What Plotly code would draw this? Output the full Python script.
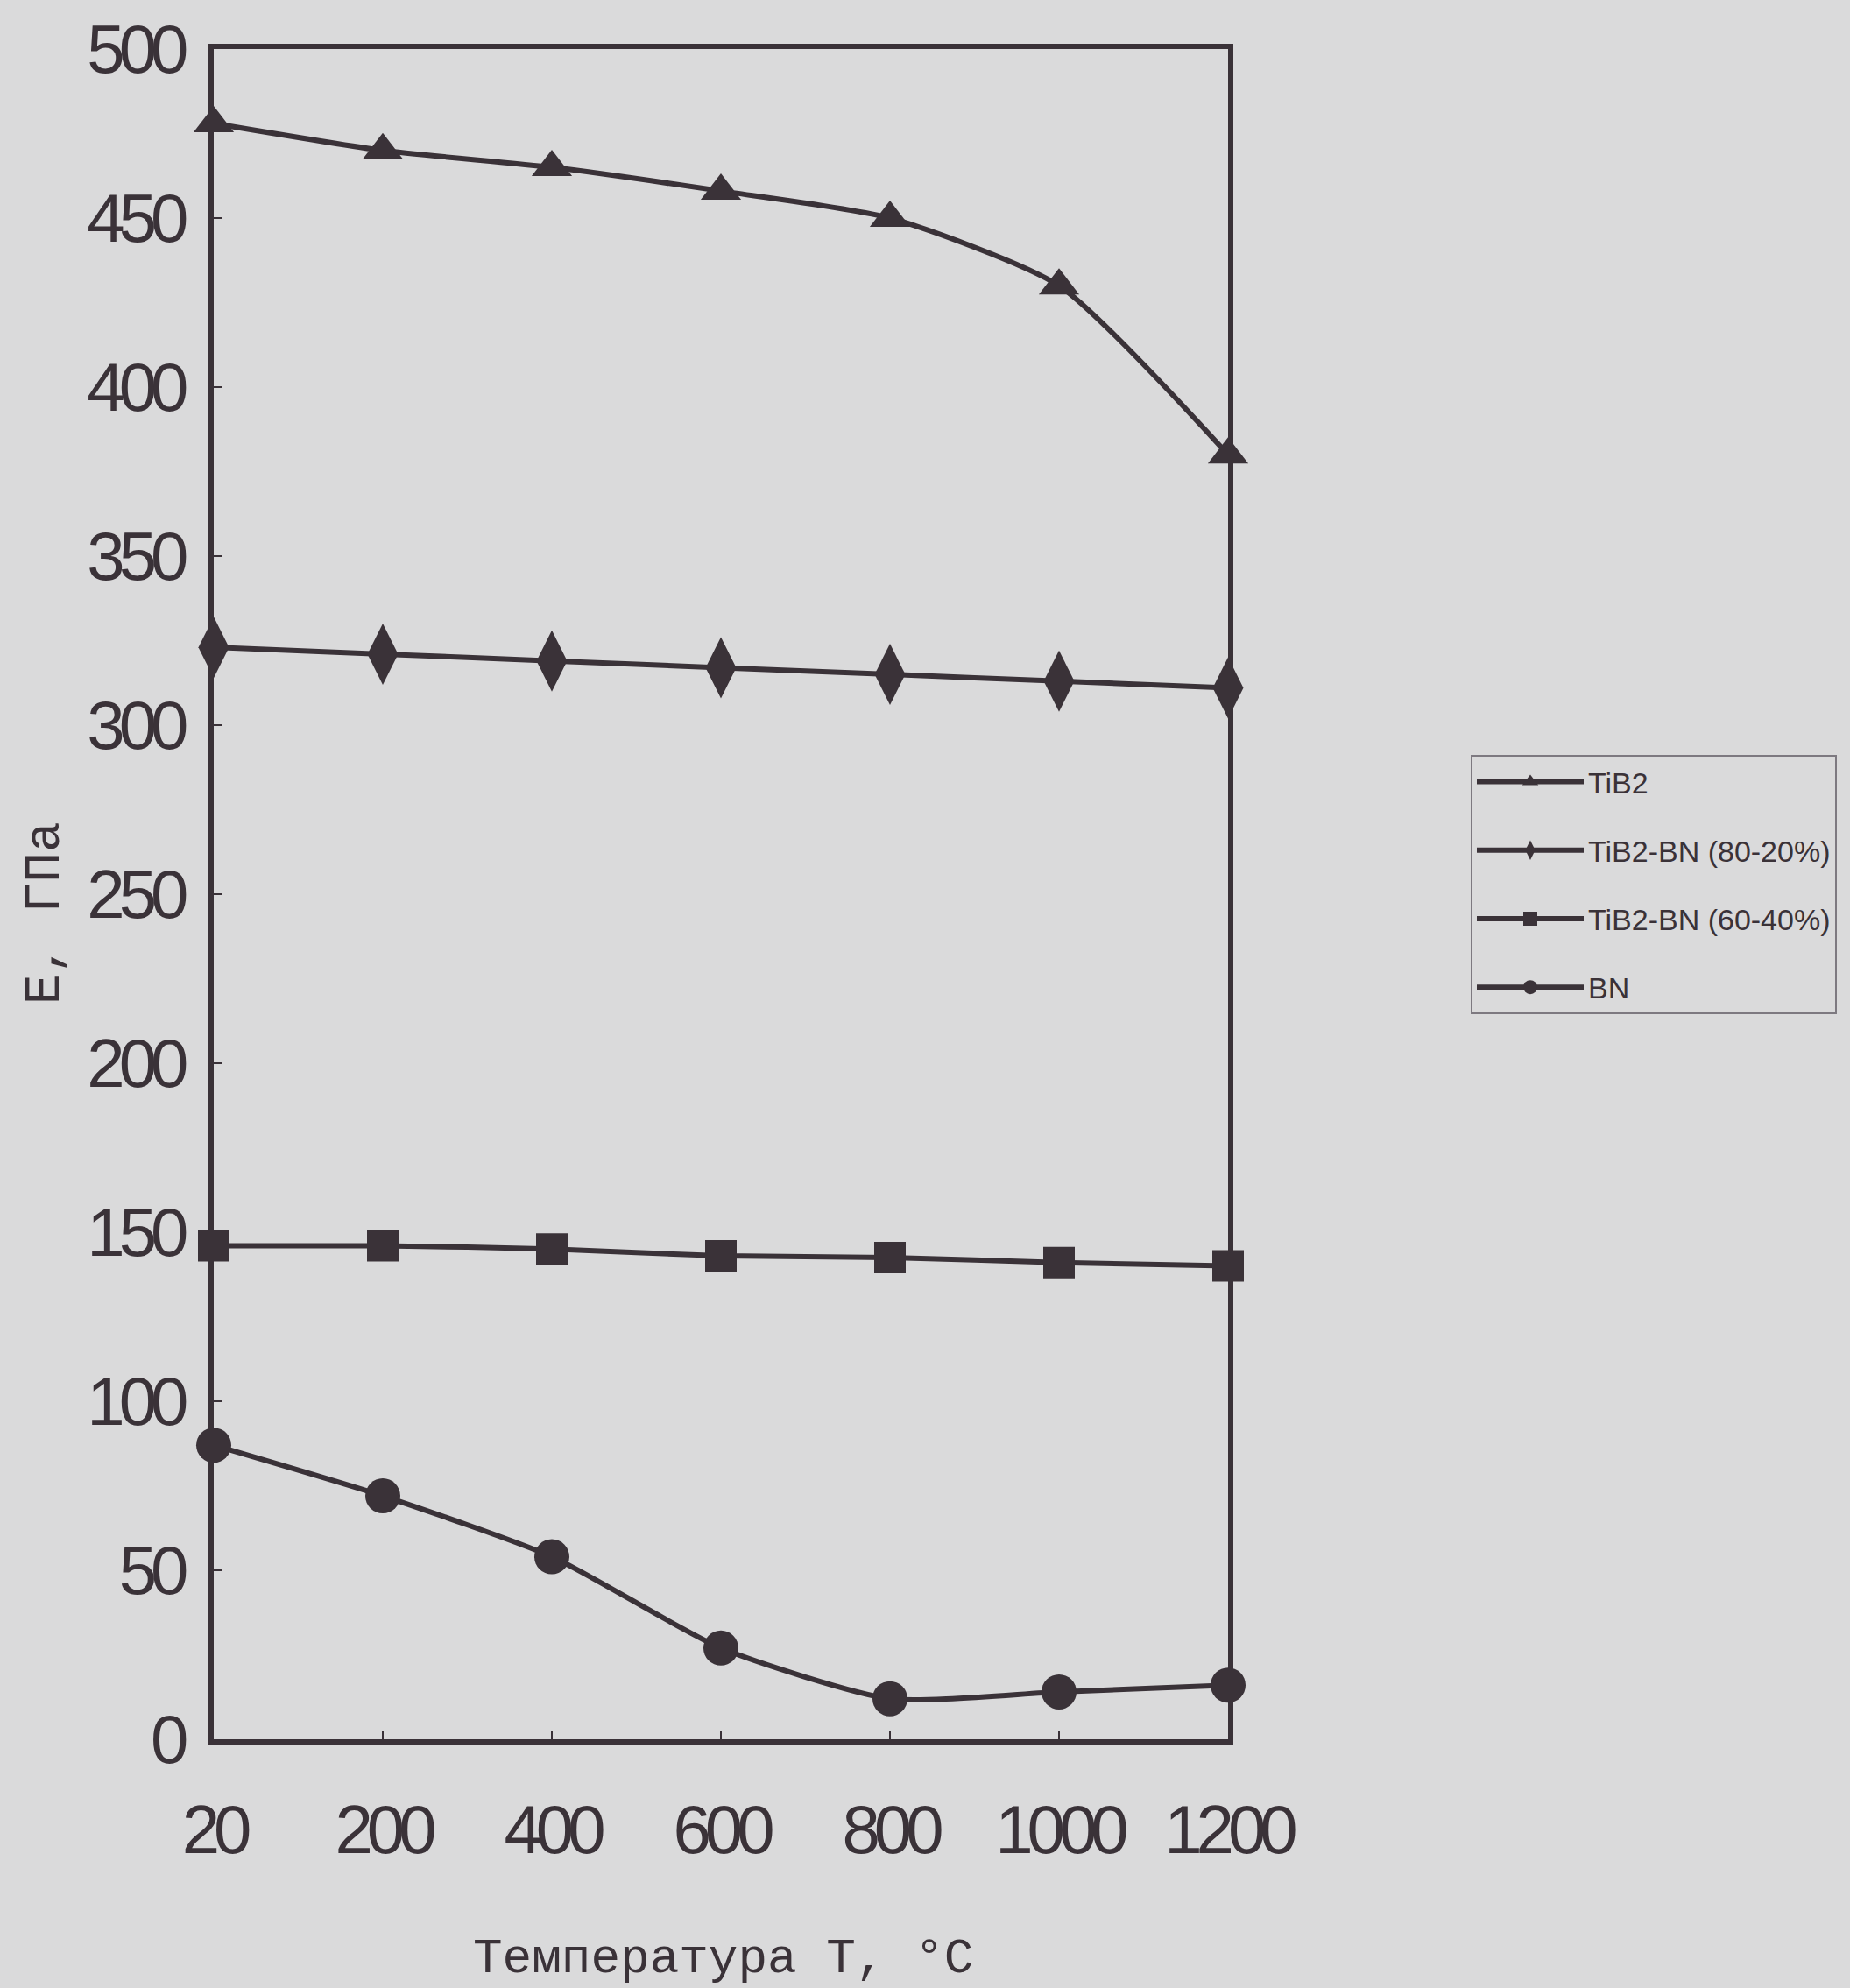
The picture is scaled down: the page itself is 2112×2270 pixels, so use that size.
import plotly.graph_objects as go

temps = ["20", "200", "400", "600", "800", "1000", "1200"]
tib2 = [478, 470, 465, 458, 450, 430, 380]
tib2_bn_80_20 = [323, 321, 319, 317, 315, 313, 311]
tib2_bn_60_40 = [146, 146, 145, 143, 142.5, 141, 140]
bn = [87, 72, 54, 27, 12, 14, 16]

names = ["TiB2", "TiB2-BN (80-20%)", "TiB2-BN (60-40%)", "BN"]
series = [tib2, tib2_bn_80_20, tib2_bn_60_40, bn]
symbols = ["triangle-up", "diamond-tall", "square", "circle"]
sizes = [40, 50, 36, 40]

INK = "#3a3238"
BG = "#dadadb"
W, H = 2112, 2270
L, R, T, B = 244, 2112 - 1402, 54, 2270 - 1986
TICKFONT = "Liberation Sans, Arial, sans-serif"

fig = go.Figure()
for i, (name, ys, sym, sz) in enumerate(zip(names, series, symbols, sizes)):
    fig.add_trace(go.Scatter(
        x=temps, y=ys, name=name, mode="lines+markers", legendgroup=f"g{i}",
        line=dict(color=INK, width=6, shape="spline", smoothing=0.6),
        marker=dict(symbol=sym, size=sz, color=INK, line=dict(width=0)),
        cliponaxis=False,
    ))

pw = W - L - R
ph = H - T - B

fig.update_layout(
    width=W, height=H, autosize=False,
    margin=dict(l=L, r=R, t=T, b=B),
    paper_bgcolor=BG, plot_bgcolor=BG,
    showlegend=True,
    legend=dict(
        xref="container", yref="container",
        x=1679 / W, y=1 - 862 / H, xanchor="left", yanchor="top",
        bgcolor="rgba(0,0,0,0)", bordercolor="#7d7980", borderwidth=2,
        font=dict(family=TICKFONT, size=34, color=INK),
        tracegroupgap=31, itemsizing="trace", itemwidth=122,
    ),
    xaxis=dict(
        type="category", range=[0, 6],
        showline=True, linecolor=INK, linewidth=6, mirror=True,
        showgrid=False, zeroline=False,
        ticks="inside", ticklen=10, tickwidth=2, tickcolor=INK,
        tickfont=dict(family=TICKFONT, size=78, color=INK),
        ticklabelstandoff=30,
    ),
    yaxis=dict(
        range=[0, 500], tick0=0, dtick=50,
        showline=True, linecolor=INK, linewidth=6, mirror=True,
        showgrid=False, zeroline=False,
        ticks="inside", ticklen=10, tickwidth=2, tickcolor=INK,
        tickfont=dict(family=TICKFONT, size=78, color=INK),
        ticklabelstandoff=14,
    ),
    annotations=[
        dict(text="Температура T, °C", xref="paper", yref="paper",
             x=(825 - L) / pw, y=(1986 - 2237) / ph, xanchor="center", yanchor="middle",
             showarrow=False, font=dict(family="Liberation Mono, Courier New, monospace", size=56, color=INK)),
        dict(text="E, ГПа", xref="paper", yref="paper",
             x=(52 - L) / pw, y=(1986 - 1042) / ph, xanchor="center", yanchor="middle",
             textangle=-90, showarrow=False,
             font=dict(family="Liberation Mono, Courier New, monospace", size=58, color=INK)),
    ],
)

post = (
    "document.body.style.margin='0';"
    "document.body.style.background='" + BG + "';"
    "var s=document.createElement('style');"
    "s.textContent='.xtick text,.ytick text{letter-spacing:-7px}';"
    "document.head.appendChild(s);"
)

fig.write_html("out.html", post_script=post, config={"displayModeBar": False})
